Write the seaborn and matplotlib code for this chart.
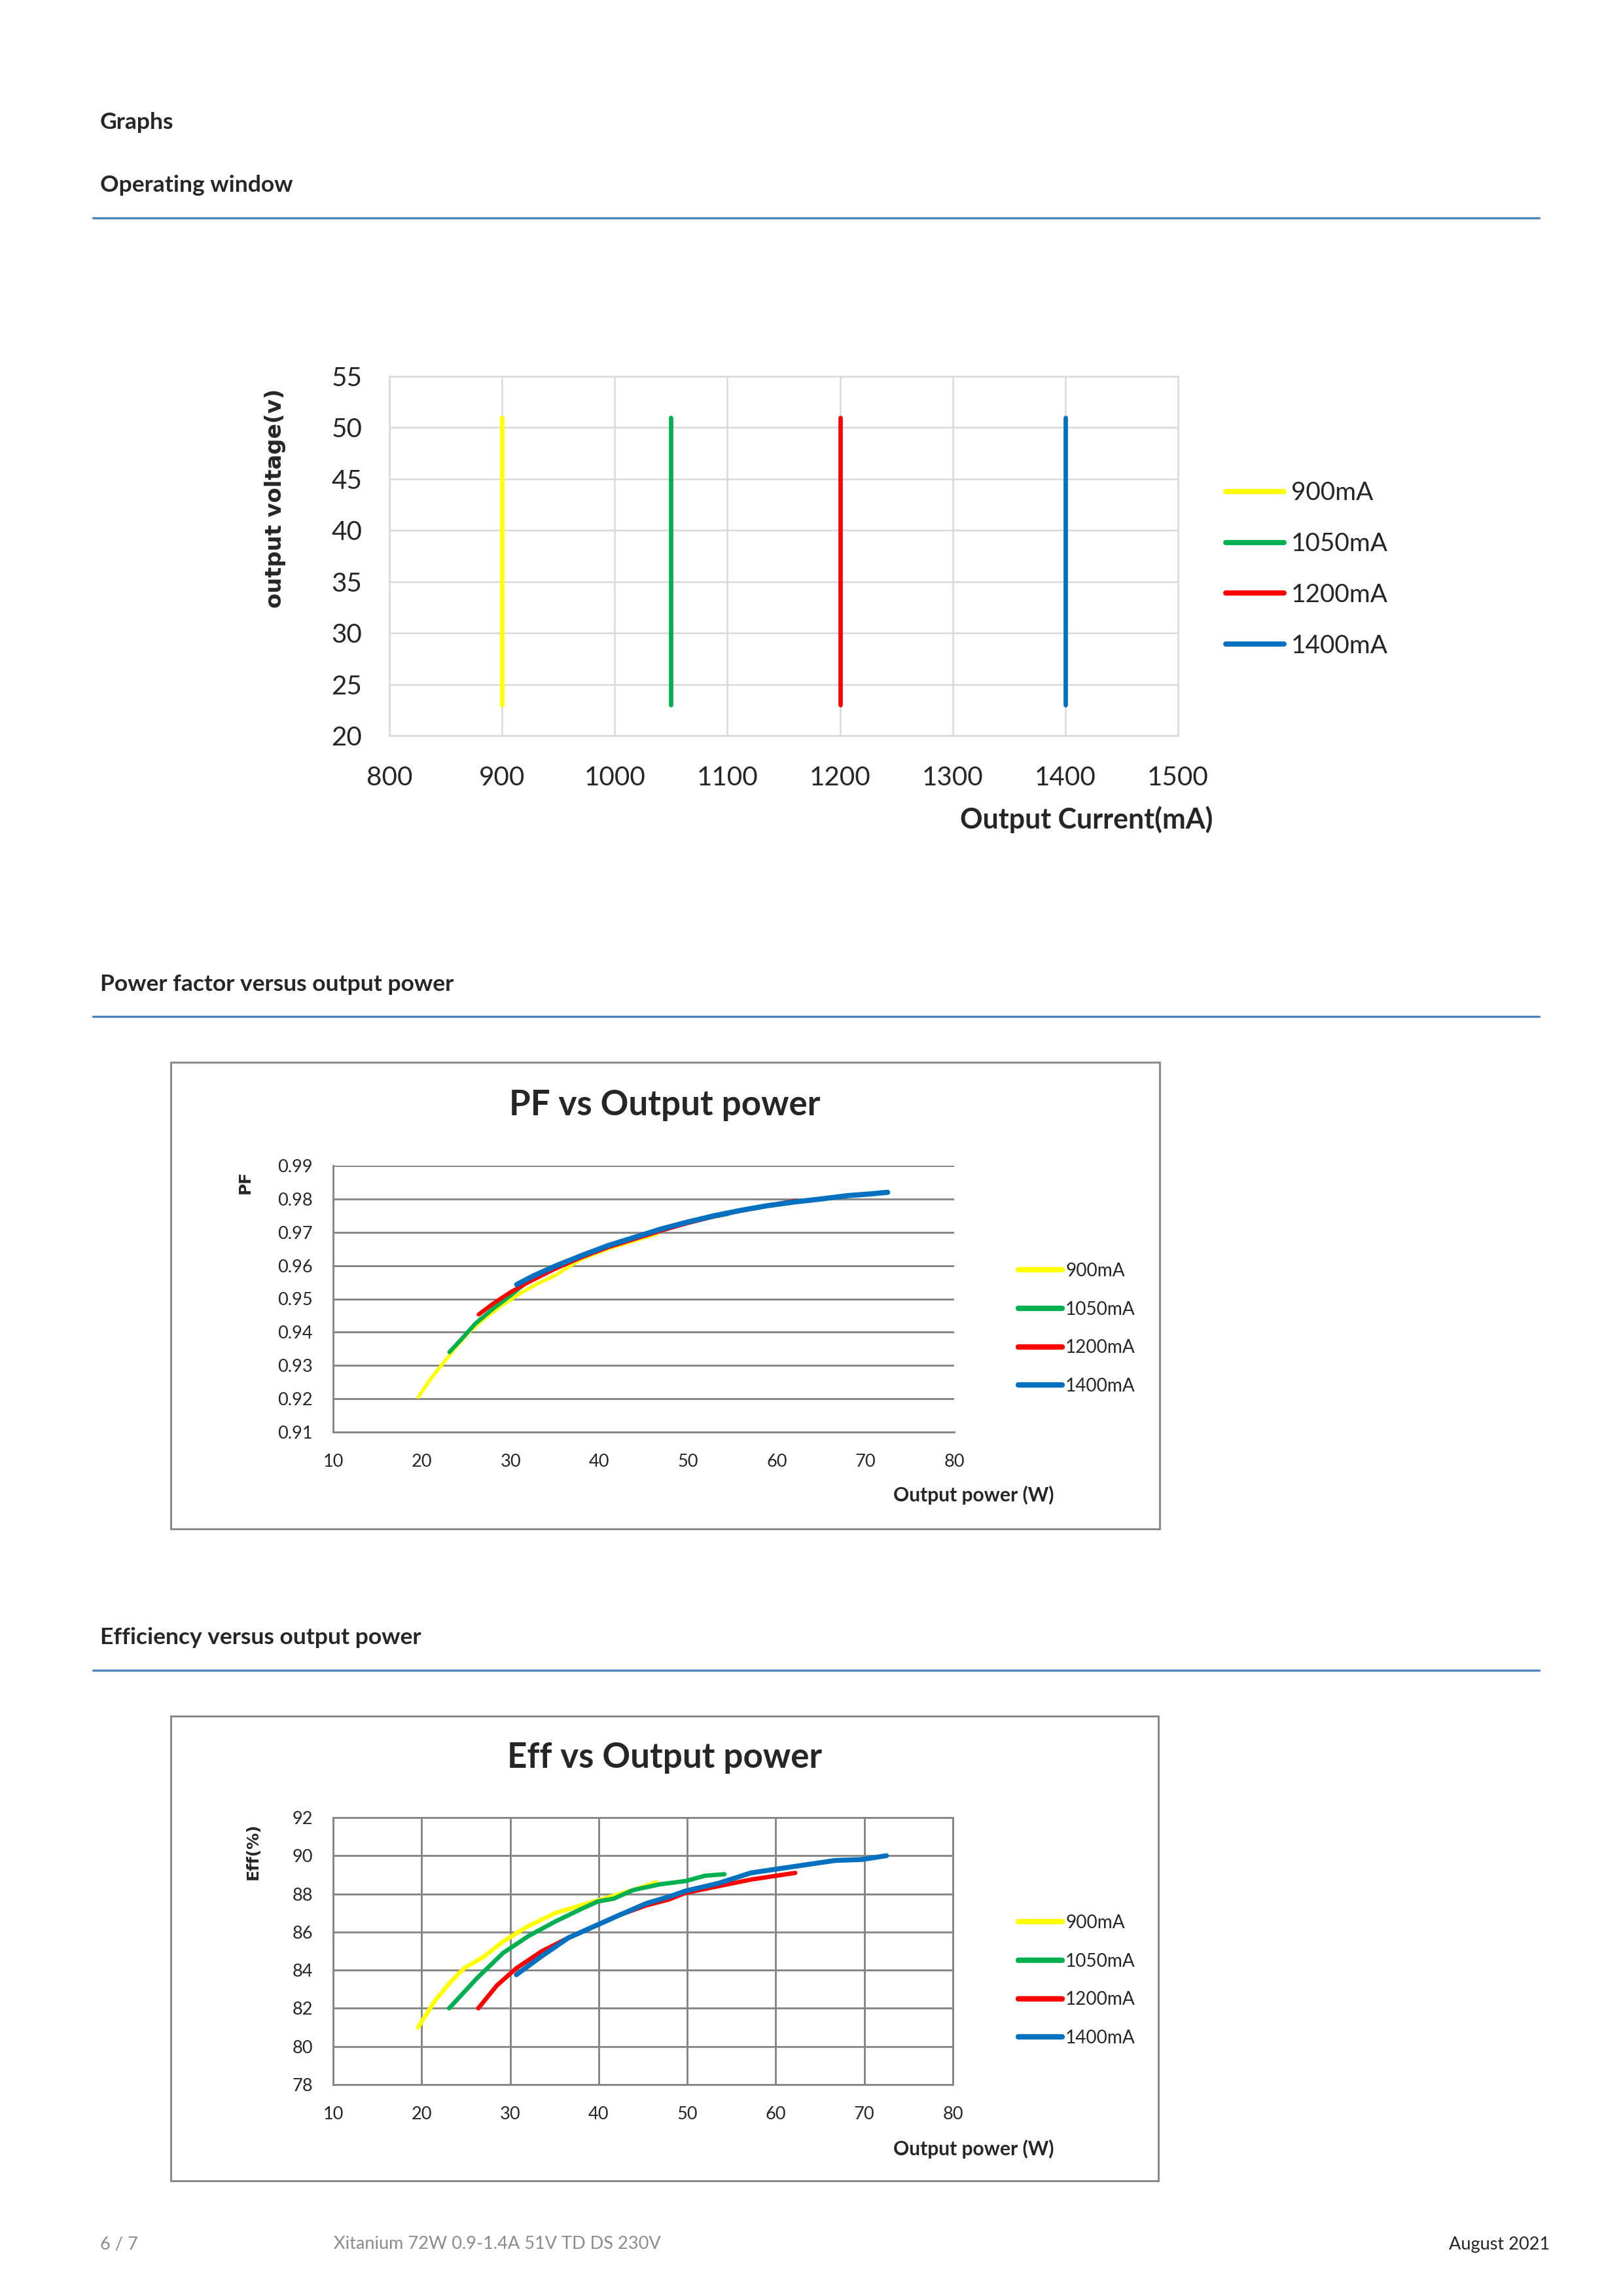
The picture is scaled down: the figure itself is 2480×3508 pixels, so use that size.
import matplotlib
matplotlib.use('Agg')
import numpy as np
import pandas as pd
import matplotlib.pyplot as plt
import seaborn as sns
from matplotlib.lines import Line2D
from matplotlib.patches import Rectangle

# series
labels = ["900mA", "1050mA", "1200mA", "1400mA"]
colors = ["#FFFF00", "#00B050", "#FF0000", "#0070C0"]

# operating window
currents = [900, 1050, 1200, 1400]
v_range = [23, 51]

# PF vs output power
pf_w_900 = [19.6, 21, 22.5, 24, 25.5, 27, 29, 31, 33, 35, 38, 41, 44, 46.5]
pf_900 = [0.9205, 0.926, 0.931, 0.936, 0.9405, 0.944, 0.948, 0.9515, 0.9545, 0.957, 0.962, 0.965, 0.9675, 0.9695]
pf_w_1050 = [23.1, 24.5, 26, 28, 30, 32.5, 35, 38, 41, 44, 47, 50, 52.5, 54.5]
pf_1050 = [0.934, 0.938, 0.9425, 0.947, 0.951, 0.9565, 0.9595, 0.9627, 0.9657, 0.9682, 0.9707, 0.9728, 0.9745, 0.9755]
pf_w_1200 = [26.4, 28, 30, 32, 35, 38, 41, 44, 47, 50, 53, 56, 59, 62.2]
pf_1200 = [0.9453, 0.9485, 0.952, 0.955, 0.959, 0.9625, 0.9655, 0.968, 0.9705, 0.9728, 0.9748, 0.9765, 0.978, 0.9795]
pf_w_1400 = [30.7, 32.5, 35, 38, 41, 44, 47, 50, 53, 56, 59, 62, 65, 68, 70.5, 72.5]
pf_1400 = [0.9543, 0.9568, 0.9598, 0.963, 0.966, 0.9685, 0.971, 0.9731, 0.975, 0.9766, 0.978, 0.9791, 0.980, 0.981, 0.9815, 0.982]

# efficiency vs output power
eff_w_900 = [19.6, 21.5, 23.3, 24.8, 27.0, 29.2, 31.8, 35.1, 38.0, 41.0, 43.9, 46.5]
eff_900 = [81.0, 82.4, 83.4, 84.1, 84.7, 85.5, 86.25, 87.0, 87.4, 87.8, 88.2, 88.6]
eff_w_1050 = [23.1, 26.3, 29.2, 32.1, 35.1, 38.0, 39.9, 41.7, 43.9, 46.9, 49.8, 52.0, 54.2]
eff_1050 = [82.0, 83.6, 84.9, 85.8, 86.55, 87.2, 87.6, 87.75, 88.2, 88.5, 88.67, 88.95, 89.03]
eff_w_1200 = [26.4, 28.5, 30.7, 33.6, 36.6, 39.5, 42.4, 45.4, 47.9, 49.8, 53.5, 57.2, 62.2]
eff_1200 = [82.0, 83.2, 84.1, 85.0, 85.7, 86.3, 86.9, 87.4, 87.7, 88.05, 88.4, 88.75, 89.1]
eff_w_1400 = [30.7, 33.6, 36.6, 39.5, 42.4, 45.4, 48.3, 49.8, 53.5, 57.2, 60.1, 64.5, 66.7, 69.7, 72.5]
eff_1400 = [83.76, 84.75, 85.7, 86.3, 86.9, 87.5, 87.9, 88.15, 88.55, 89.1, 89.3, 89.6, 89.75, 89.8, 90.0]

W, H = 2480, 3508

sns.set_style("white")
plt.rcParams['font.family'] = ['Lato', 'DejaVu Sans']


def box(l, t, r, b):
    # pixel box -> figure fraction
    return [l / W, 1 - b / H, (r - l) / W, (b - t) / H]


def fx(x):
    return x / W


def fy(y):
    return 1 - y / H


fig = plt.figure(figsize=(W / 300, H / 300), dpi=300)

# page headings
for txt, y in [("Graphs", 187), ("Operating window", 283),
               ("Power factor versus output power", 1504),
               ("Efficiency versus output power", 2502)]:
    fig.text(fx(153), fy(y), txt, fontsize=8.5, fontweight='bold', va='center', ha='left')
for y in [333, 1553, 2552]:
    fig.add_artist(Line2D([fx(142), fx(2352)], [fy(y), fy(y)], transform=fig.transFigure,
                          color="#4F81BD", lw=0.8))

# ---- operating window
ow = pd.DataFrame({
    "current": np.repeat(currents, 2),
    "voltage": v_range * len(currents),
    "series": np.repeat(labels, 2),
})
ax1 = fig.add_axes(box(595, 575, 1800, 1124))
sns.lineplot(data=ow, x="current", y="voltage", hue="series", palette=colors, hue_order=labels,
             estimator=None, sort=False, lw=1.6, solid_capstyle='round', ax=ax1)
ax1.set_xlim(800, 1500)
ax1.set_ylim(20, 55)
ax1.set_xticks(range(800, 1501, 100))
ax1.set_yticks(range(20, 56, 5))
ax1.tick_params(length=0, labelsize=9.7)
ax1.tick_params(axis='y', pad=10)
ax1.tick_params(axis='x', pad=11)
ax1.grid(True, color="#D9D9D9", lw=0.6)
for s in ax1.spines.values():
    s.set_color("#D9D9D9")
    s.set_linewidth(0.6)
ax1.set_xlabel("")
ax1.set_ylabel("")
fig.text(fx(1853), fy(1252), "Output Current(mA)", fontsize=10.3, fontweight='bold', ha='right', va='center')
fig.text(fx(420), fy(761), "output voltage(v)", fontsize=8.1, fontweight='bold', rotation=90,
         ha='center', va='center', family='DejaVu Sans')
leg1 = ax1.legend(loc="center left", bbox_to_anchor=(fx(1873), fy(870)), bbox_transform=fig.transFigure,
                  frameon=False, fontsize=9.3, handlelength=2.3, handletextpad=0.28, labelspacing=1.08,
                  borderpad=0, borderaxespad=0)
for h in leg1.legend_handles:
    h.set_linewidth(1.9)


def curve_chart(frame, axbox, title, title_y, ylabel, ylabel_xy, xs, ys, ylim, yticks, yfmt,
                xlabel_y, legend_y, vgrid, widths):
    l, t, r, b = frame
    fig.add_artist(Rectangle((fx(l), fy(b)), (r - l) / W, (b - t) / H, transform=fig.transFigure,
                             fill=False, edgecolor="#868686", lw=0.7))
    ax = fig.add_axes(box(*axbox))
    for x, y, lab, c, lw in zip(xs, ys, labels, colors, widths):
        sns.lineplot(x=x, y=y, color=c, lw=lw, label=lab, estimator=None, sort=False,
                     solid_capstyle='round', ax=ax)
    ax.set_xlim(10, 80)
    ax.set_ylim(*ylim)
    ax.set_xticks(range(10, 81, 10))
    ax.set_yticks(yticks)
    ax.set_yticklabels([yfmt.format(v) for v in yticks])
    ax.tick_params(length=0, labelsize=6.5)
    ax.tick_params(axis='y', pad=7.5)
    ax.tick_params(axis='x', pad=8)
    ax.grid(True, axis='y', color="#868686", lw=0.7)
    if vgrid:
        ax.grid(True, axis='x', color="#868686", lw=0.7)
    for name, s in ax.spines.items():
        s.set_color("#868686")
        s.set_linewidth(0.7)
    if not vgrid:
        ax.spines['right'].set_visible(False)
        ax.spines['top'].set_visible(False)
    ax.set_xlabel("")
    ax.set_ylabel("")
    fig.text(fx(1016), fy(title_y), title, fontsize=12.7, fontweight='bold', ha='center', va='center')
    fig.text(fx(1488), fy(xlabel_y), "Output power (W)", fontsize=7.2, fontweight='bold',
             ha='center', va='center')
    fig.text(fx(ylabel_xy[0]), fy(ylabel_xy[1]), ylabel, fontsize=6, fontweight='bold', rotation=90,
             ha='center', va='center', family='DejaVu Sans')
    leg = ax.legend(loc="center left", bbox_to_anchor=(fx(1556), fy(legend_y)),
                    bbox_transform=fig.transFigure, frameon=False, fontsize=6.7, handlelength=2.4,
                    handletextpad=0.18, labelspacing=1.17, borderpad=0, borderaxespad=0)
    for h in leg.legend_handles:
        h.set_linewidth(2.0)
    return ax


curve_chart((261, 1623, 1772, 2336), (509, 1781, 1458, 2188), "PF vs Output power", 1689,
            "PF", (375, 1806),
            [pf_w_900, pf_w_1050, pf_w_1200, pf_w_1400], [pf_900, pf_1050, pf_1200, pf_1400],
            (0.91, 0.99), [0.91 + 0.01 * i for i in range(9)], "{:.2f}", 2284, 2030, False,
            [1.3, 1.5, 1.5, 1.9])

curve_chart((261, 2622, 1770, 3332), (509, 2777, 1456, 3185), "Eff vs Output power", 2685,
            "Eff(%)", (387, 2829),
            [eff_w_900, eff_w_1050, eff_w_1200, eff_w_1400], [eff_900, eff_1050, eff_1200, eff_1400],
            (78, 92), list(range(78, 93, 2)), "{:d}", 3283, 3026, True,
            [1.6, 1.6, 1.6, 1.8])

# footer
fig.text(fx(153), fy(3429), "6 / 7", fontsize=6.5, color="#8C8C8C", va='center')
fig.text(fx(510), fy(3429), "Xitanium 72W 0.9-1.4A 51V TD DS 230V", fontsize=6.5, color="#8C8C8C", va='center')
fig.text(fx(2368), fy(3429), "August 2021", fontsize=6.5, ha='right', va='center')

fig.savefig("out.png", dpi=300)
plt.close(fig)
